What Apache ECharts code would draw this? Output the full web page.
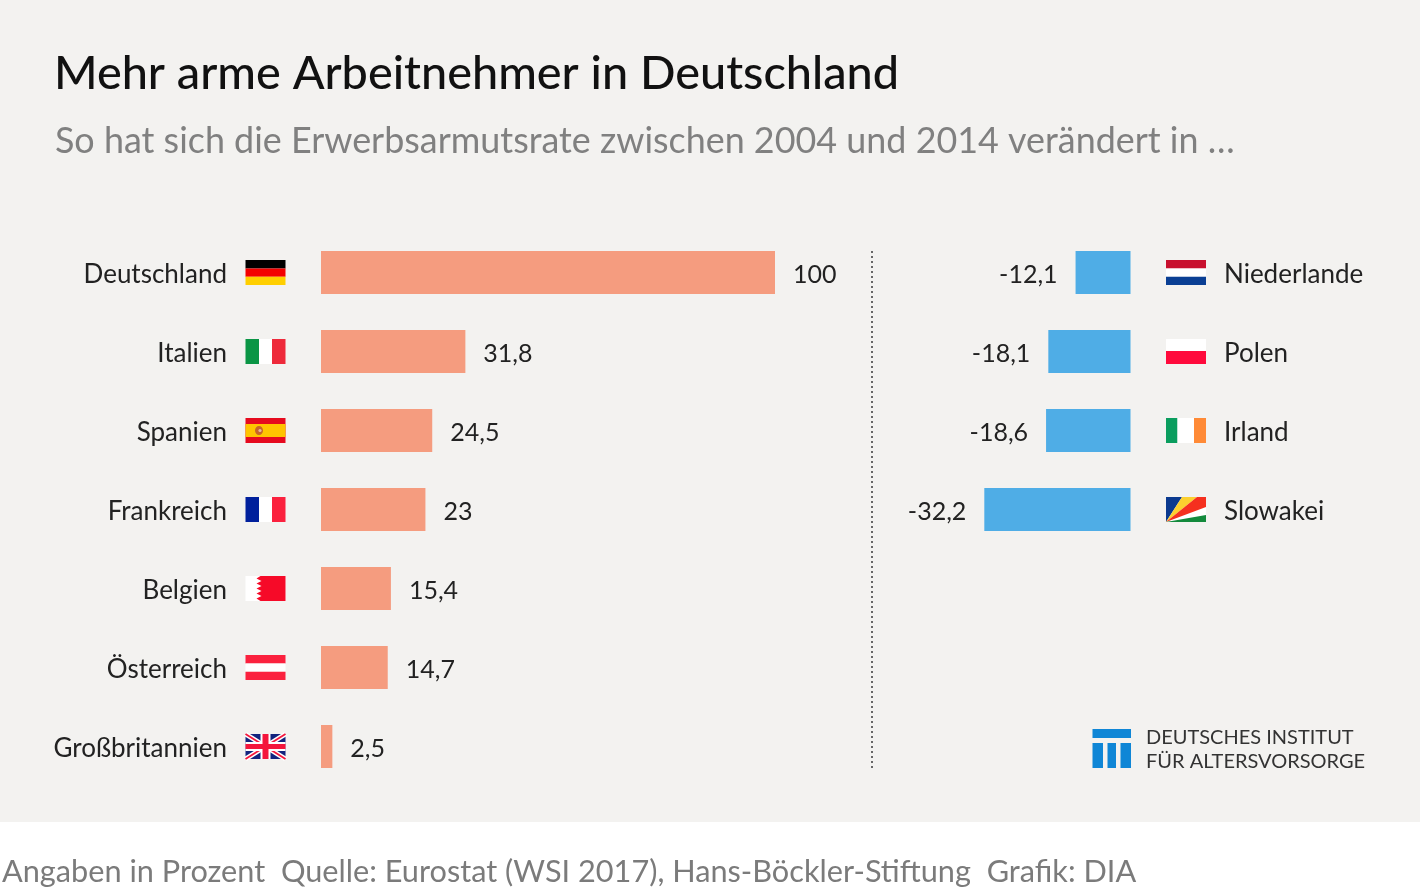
<!DOCTYPE html>
<html>
<head>
<meta charset="utf-8">
<title>Mehr arme Arbeitnehmer in Deutschland</title>
<script src="https://cdn.jsdelivr.net/npm/echarts@6/dist/echarts.min.js"></script>
<style>
  html, body { margin: 0; padding: 0; background: #fff; }
  #main { width: 1420px; height: 889px; }
</style>
</head>
<body>
<div id="main"></div>
<script>
const FONT = 'Lato'

const titleText = 'Mehr arme Arbeitnehmer in Deutschland'
const subtitleText = 'So hat sich die Erwerbsarmutsrate zwischen 2004 und 2014 verändert in …'
const footerText = 'Angaben in Prozent  Quelle: Eurostat (WSI 2017), Hans-Böckler-Stiftung  Grafik: DIA'
const logoLines = ['DEUTSCHES INSTITUT', 'FÜR ALTERSVORSORGE']

const upCountries = ['Deutschland', 'Italien', 'Spanien', 'Frankreich', 'Belgien', 'Österreich', 'Großbritannien']
const upValues = [100, 31.8, 24.5, 23, 15.4, 14.7, 2.5]
const downCountries = ['Niederlande', 'Polen', 'Irland', 'Slowakei']
const downValues = [-12.1, -18.1, -18.6, -32.2]

// flags in a local 40x25 box
function rect(x, y, w, h, fill) {
    return { type: 'rect', shape: { x, y, width: w, height: h }, style: { fill } }
}
function poly(points, fill) {
    return { type: 'polygon', shape: { points }, style: { fill } }
}
function line(x1, y1, x2, y2, stroke, lineWidth) {
    return { type: 'line', shape: { x1, y1, x2, y2 }, style: { stroke, lineWidth } }
}
function vStripes(a, b, c, w1 = 13.5, w2 = 13) {
    return [rect(0, 0, w1, 25, a), rect(w1, 0, w2, 25, b), rect(w1 + w2, 0, 40 - w1 - w2, 25, c)]
}
function hStripes(a, b, c) {
    return [rect(0, 0, 40, 8.4, a), rect(0, 8.4, 40, 8.3, b), rect(0, 16.7, 40, 8.3, c)]
}

const flags = {
    'Deutschland': () => hStripes('#000000', '#f40000', '#ffcf00'),
    'Italien': () => vStripes('#0a9545', '#ffffff', '#ee2a3b'),
    'Spanien': () => [
        rect(0, 0, 40, 25, '#e60a1e'),
        rect(0, 6, 40, 13, '#ffc400'),
        { type: 'ellipse', shape: { cx: 13.5, cy: 12.5, rx: 4, ry: 4.5 }, style: { fill: '#c8642a' } },
        { type: 'circle', shape: { cx: 14.5, cy: 12.5, r: 1.6 }, style: { fill: '#e8b8a0' } }
    ],
    'Frankreich': () => vStripes('#00209c', '#ffffff', '#fb213e'),
    'Belgien': () => [
        rect(0, 0, 40, 25, '#ffffff'),
        poly([[15, 0], [40, 0], [40, 25], [15, 25], [11, 22.5], [16, 20], [11, 17.5], [16, 15], [11, 12.5], [16, 10], [11, 7.5], [16, 5], [11, 2.5]], '#f60a28')
    ],
    'Österreich': () => hStripes('#fb213e', '#ffffff', '#fb213e'),
    'Großbritannien': () => [
        rect(0, 0, 40, 25, '#12237e'),
        line(0, 0, 40, 25, '#ffffff', 5),
        line(40, 0, 0, 25, '#ffffff', 5),
        line(0, 0, 40, 25, '#f4163c', 1.8),
        line(40, 0, 0, 25, '#f4163c', 1.8),
        rect(15, 0, 10, 25, '#ffffff'),
        rect(0, 8, 40, 9, '#ffffff'),
        rect(17, 0, 6, 25, '#f4163c'),
        rect(0, 10, 40, 5, '#f4163c')
    ],
    'Niederlande': () => hStripes('#c8102e', '#ffffff', '#0a3f94'),
    'Polen': () => [rect(0, 0, 40, 12, '#ffffff'), rect(0, 12, 40, 13, '#ff0a3c')],
    'Irland': () => vStripes('#0a9d5e', '#ffffff', '#ff8a36', 11.5, 16.5),
    'Slowakei': () => [
        rect(0, 0, 40, 25, '#ffffff'),
        poly([[0, 25], [0, 0], [16, 0]], '#0b3a8f'),
        poly([[0, 25], [16, 0], [31, 0]], '#fcd02f'),
        poly([[0, 25], [31, 0], [40, 0], [40, 10]], '#f5301f'),
        poly([[0, 25], [40, 18], [40, 25]], '#138a3c')
    ]
}

// custom series that puts a flag next to the category row
function flagSeries(gridIndex, names, offsetX) {
    return {
        type: 'custom',
        xAxisIndex: gridIndex,
        yAxisIndex: gridIndex,
        silent: true,
        clip: false,
        z: 5,
        data: names.map((name, i) => [0, i]),
        encode: { x: 0, y: 1 },
        renderItem: (params, api) => {
            const p = api.coord([0, api.value(1)])
            return {
                type: 'group',
                x: p[0] + offsetX,
                y: p[1] - 12.5,
                children: flags[names[params.dataIndex]]()
            }
        }
    }
}

const rowHeight = 79
const chartTop = 233
const unit = 4.54

function comma(v) {
    return String(v).replace('.', ',')
}

// axis names sit a little below the row centre
const nameLabel = {
    fontFamily: FONT,
    fontSize: 26,
    color: '#222222',
    formatter: v => '{n|' + v + '}',
    rich: { n: { fontFamily: FONT, fontSize: 26, color: '#222222', padding: [4, 0, 0, 0] } }
}

var myChart = echarts.init(document.getElementById('main'), null, { renderer: 'canvas' })

var option = {
    animation: false,
    backgroundColor: '#ffffff',
    textStyle: { fontFamily: FONT },
    title: [
        {
            text: titleText, left: 49, top: 45.5,
            textStyle: { fontFamily: FONT, fontSize: 46.8, fontWeight: 500, color: '#111111' }
        },
        {
            text: subtitleText, left: 50, top: 118,
            textStyle: { fontFamily: FONT, fontSize: 35.9, fontWeight: 400, color: '#808080' }
        },
        {
            text: footerText, left: -3, top: 852,
            textStyle: { fontFamily: FONT, fontSize: 30.7, fontWeight: 400, color: '#7b7b7b' }
        }
    ],
    grid: [
        { left: 321, top: chartTop, width: 100 * unit, height: rowHeight * upCountries.length, containLabel: false },
        { left: 1130.5 - 40 * unit, top: chartTop, width: 40 * unit, height: rowHeight * downCountries.length, containLabel: false }
    ],
    xAxis: [
        { type: 'value', gridIndex: 0, min: 0, max: 100, show: false },
        { type: 'value', gridIndex: 1, min: -40, max: 0, show: false }
    ],
    yAxis: [
        {
            type: 'category', gridIndex: 0, inverse: true, data: upCountries,
            axisLine: { show: false }, axisTick: { show: false },
            axisLabel: { margin: 94, ...nameLabel }
        },
        {
            type: 'category', gridIndex: 1, inverse: true, position: 'right', data: downCountries,
            axisLine: { show: false }, axisTick: { show: false },
            axisLabel: { margin: 93.5, ...nameLabel }
        }
    ],
    series: [
        {
            type: 'bar', xAxisIndex: 0, yAxisIndex: 0, data: upValues, barWidth: 43,
            itemStyle: { color: '#f59c7f' },
            label: {
                show: true, position: 'right', distance: 18, offset: [0, 2],
                fontFamily: FONT, fontSize: 25, color: '#222222',
                formatter: p => comma(p.value)
            }
        },
        {
            type: 'bar', xAxisIndex: 1, yAxisIndex: 1, data: downValues, barWidth: 43,
            itemStyle: { color: '#4fade6' },
            label: {
                show: true, position: 'left', distance: 18, offset: [0, 2],
                fontFamily: FONT, fontSize: 25, color: '#222222',
                formatter: p => comma(p.value)
            }
        },
        flagSeries(0, upCountries, -75.5),
        flagSeries(1, downCountries, 35.5)
    ],
    graphic: [
        // panel behind the chart, footer stays white
        { type: 'rect', z: -10, silent: true, shape: { x: 0, y: 0, width: 1420, height: 822 }, style: { fill: '#f3f2f0' } },
        // dotted divider
        { type: 'line', z: 1, silent: true, shape: { x1: 872, y1: 251, x2: 872, y2: 768 }, style: { stroke: '#666666', lineWidth: 2, lineDash: [2, 3] } },
        // institute logo
        { type: 'rect', z: 1, silent: true, shape: { x: 1092.5, y: 729, width: 38.5, height: 9 }, style: { fill: '#0f86d6' } },
        { type: 'rect', z: 1, silent: true, shape: { x: 1092.5, y: 743, width: 10.5, height: 25 }, style: { fill: '#0f86d6' } },
        { type: 'rect', z: 1, silent: true, shape: { x: 1107.5, y: 743, width: 8.5, height: 25 }, style: { fill: '#0f86d6' } },
        { type: 'rect', z: 1, silent: true, shape: { x: 1120.5, y: 743, width: 10.5, height: 25 }, style: { fill: '#0f86d6' } },
        { type: 'text', z: 1, silent: true, x: 1146, y: 738, style: { text: logoLines[0], font: '400 20px ' + FONT, fill: '#333333', textVerticalAlign: 'middle' } },
        { type: 'text', z: 1, silent: true, x: 1146, y: 762, style: { text: logoLines[1], font: '400 20px ' + FONT, fill: '#333333', textVerticalAlign: 'middle' } }
    ]
}

myChart.setOption(option)
</script>
</body>
</html>
